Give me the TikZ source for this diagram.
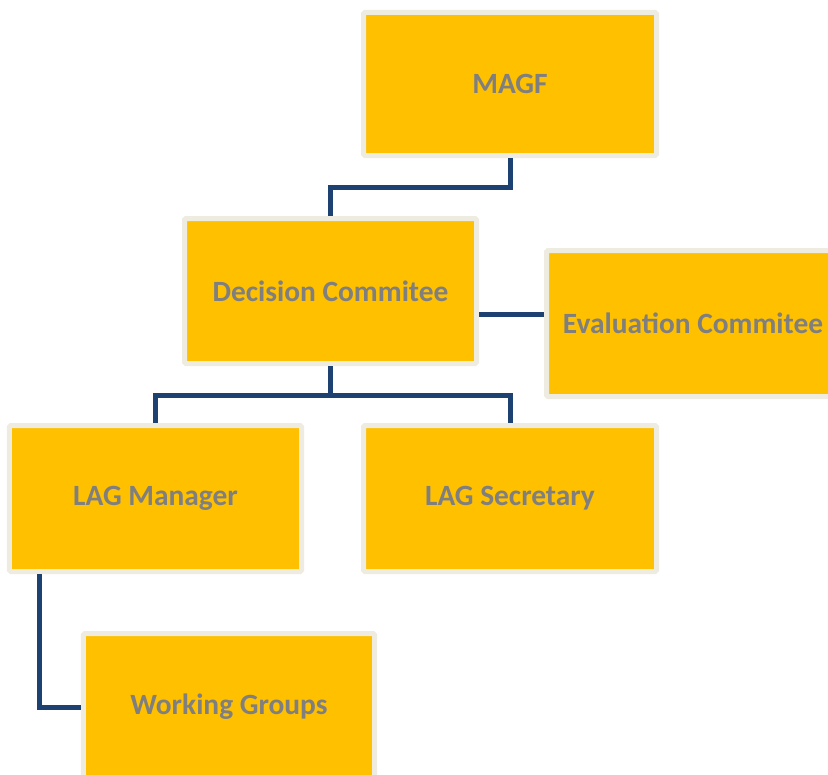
\documentclass[tikz,border=0pt]{standalone}
\usepackage{fontspec}
\setmainfont{Carlito}
\definecolor{gold}{HTML}{FFC000}
\definecolor{rim}{HTML}{EEEBE0}
\definecolor{txt}{HTML}{7F7F7F}
\definecolor{conn}{HTML}{1D4171}
\tikzset{
  orgbox/.style={draw=rim, fill=gold, line width=5bp, rounded corners=1.5bp,
    inner sep=0pt, text=txt, font=\fontsize{29.5}{34}\selectfont\bfseries},
  connline/.style={draw=conn, line width=5bp}
}
\begin{document}
\begin{tikzpicture}[x=1bp,y=-1bp]
\useasboundingbox (0,0) rectangle (828,775);
\clip (0,0) rectangle (828,775);
\node[orgbox, minimum width=293bp, minimum height=143bp] (magf) at (510,84) {MAGF};
\node[orgbox, minimum width=292bp, minimum height=145bp] (dec) at (330.5,291) {Decision Commitee};
\node[orgbox, minimum width=293bp, minimum height=146bp] (eval) at (693,323.5) {Evaluation Commitee};
\node[orgbox, minimum width=292bp, minimum height=146bp] (lagm) at (155.5,498.5) {LAG Manager};
\node[orgbox, minimum width=293bp, minimum height=146bp] (lags) at (510,498.5) {LAG Secretary};
\node[orgbox, minimum width=291bp, minimum height=147bp] (wg) at (229,707) {Working Groups};
\coordinate (j1) at (510,187);
\coordinate (j2) at (330.5,395);
\coordinate (j3) at (0,314);
\coordinate (j4) at (39,0);
\draw[connline] (magf.south) -- (j1) -| (dec.north);
\draw[connline] (dec.south) -- (j2);
\draw[connline] (lagm.north) |- (j2) -| (lags.north);
\draw[connline] (dec.east |- j3) -- (eval.west |- j3);
\draw[connline] (lagm.south -| j4) |- (wg.west);
\end{tikzpicture}
\end{document}
